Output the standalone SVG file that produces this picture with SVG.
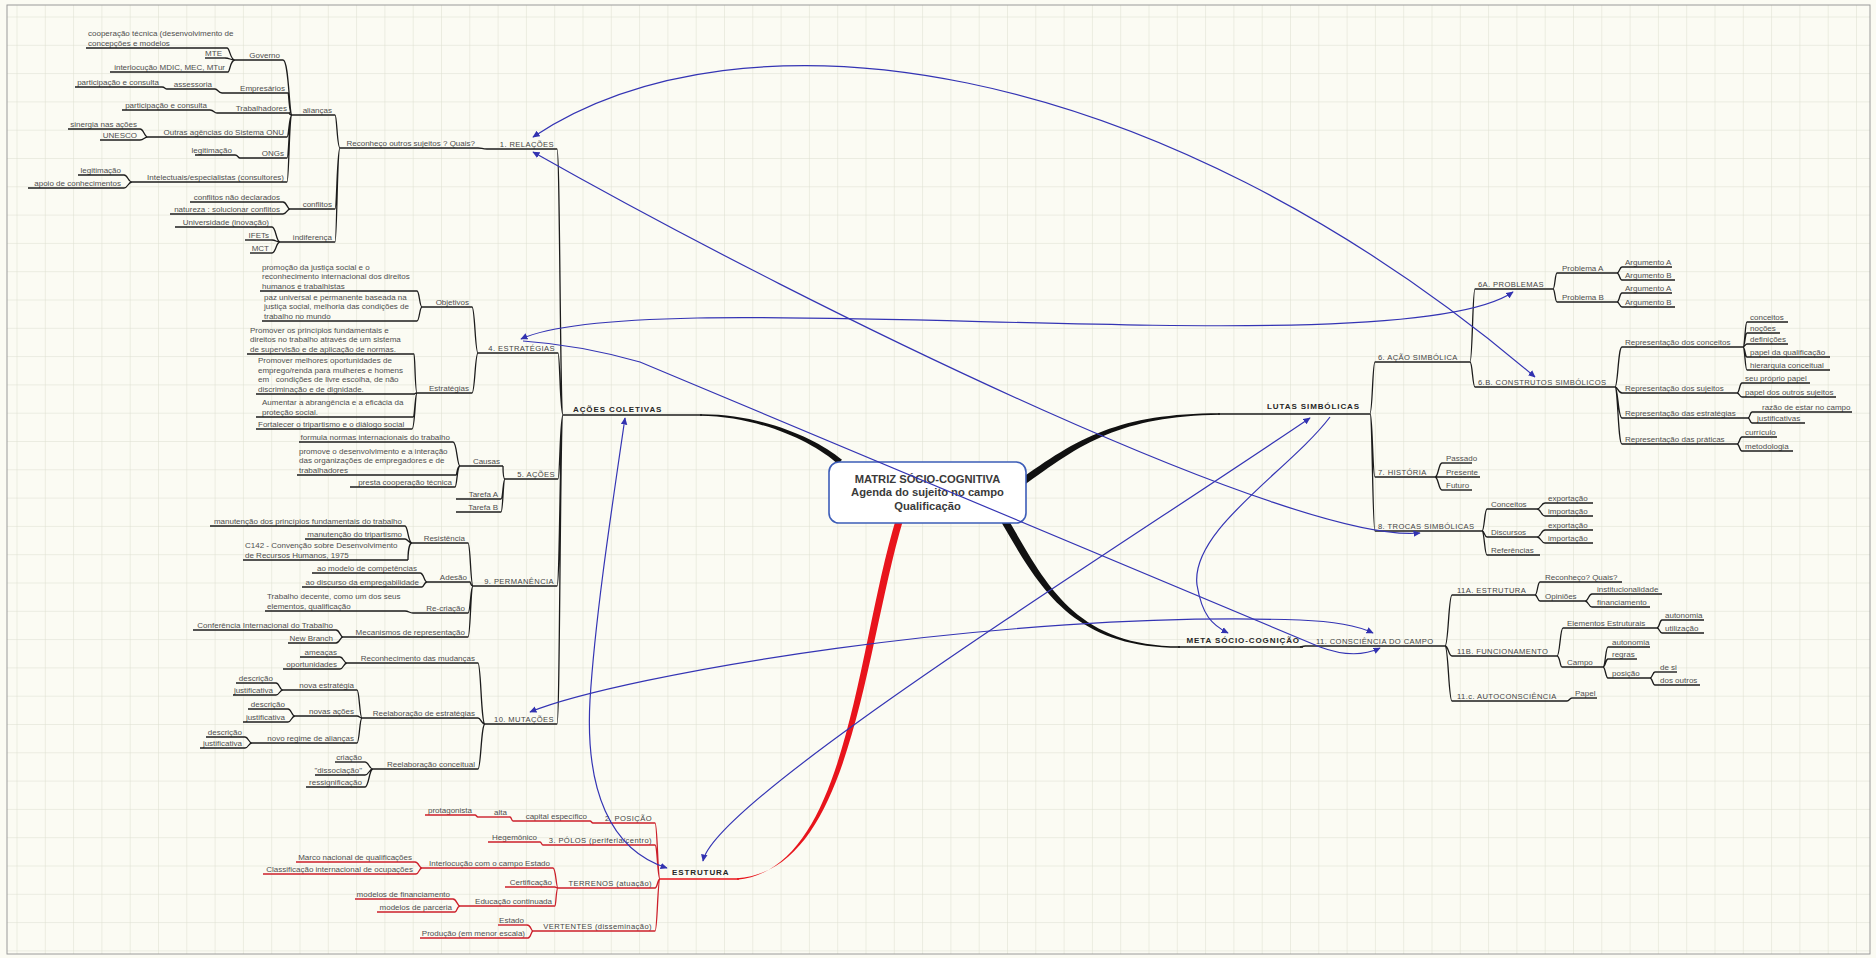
<svg xmlns="http://www.w3.org/2000/svg" width="1876" height="958" viewBox="0 0 1876 958">
<defs>
<style>
text{font-family:"Liberation Sans",Arial,sans-serif}
.t{font-size:8px;fill:#4e4e4e}
.k{font-size:7.6px;letter-spacing:.4px;fill:#444}
.b{font-size:8px;font-weight:bold;letter-spacing:.9px;fill:#262626}
.e{text-anchor:end}
.ct{font-size:11.2px;font-weight:bold;fill:#3a3a3a;text-anchor:middle}
.u{fill:none;stroke:#1c1c1c;stroke-width:1.4}
.ur{fill:none;stroke:#cc1f2a;stroke-width:1.4}
.c{fill:none;stroke:#1c1c1c;stroke-width:1.3}
.cr{fill:none;stroke:#cc1f2a;stroke-width:1.3}
.rl{fill:none;stroke:#3434b4;stroke-width:1.2;marker-end:url(#ah)}
.rs{marker-start:url(#ah)}
</style>
<pattern id="grid" x="16.5" y="16.5" width="28.3" height="28.3" patternUnits="userSpaceOnUse">
<path d="M0 0H28.3M0 0V28.3" fill="none" stroke="#dcdecf" stroke-width="1"/>
</pattern>
<marker id="ah" viewBox="0 0 10 10" refX="9" refY="5" markerWidth="6" markerHeight="6" orient="auto-start-reverse" markerUnits="strokeWidth">
<path d="M0 0.5L10 5L0 9.5Z" fill="#3232b0"/>
</marker>
</defs>
<rect x="0" y="0" width="1876" height="958" fill="#fbfbf3"/>
<rect x="7" y="5" width="1863" height="949" fill="url(#grid)" stroke="#9a9a9a" stroke-width="1"/>

<g id="connectors">
<path class="c" d="M563 415C560 415 560 149 557 149M563 415C560 415 560 353 558 353M563 415C560 415 560 479 558 479M563 415C560 415 560 586 557 586M563 415C560 415 560 724 557 724"/>
<path class="c" d="M487 149C482 149 482 148 478 148"/>
<path class="c" d="M340 148C337 148 337 115 335 115M340 148C337 148 337 209 335 209M340 148C337 148 337 242 335 242"/>
<path class="c" d="M292 115C289 115 289 60 283 60M292 115C289 115 289 93 288 93M292 115C289 115 289 113 290 113M292 115C289 115 289 137 287 137M292 115C289 115 289 158 287 158M292 115C289 115 289 182 287 182"/>
<path class="c" d="M235 60C230 60 230 48 227 48M235 60C230 60 230 58 225 58M235 60C230 60 230 72 228 72"/>
<path class="c" d="M222 93C218 93 218 89 215 89M167 89C165 89 165 87 162 87M217 113C214 113 214 110 210 110"/>
<path class="c" d="M148 137C144 137 144 129 140 129M148 137C144 137 144 140 140 140M240 158C238 158 238 155 235 155"/>
<path class="c" d="M132 182C128 182 128 175 124 175M132 182C128 182 128 188 124 188"/>
<path class="c" d="M290 209C287 209 287 202 283 202M290 209C287 209 287 214 283 214"/>
<path class="c" d="M280 242C276 242 276 227 272 227M280 242C276 242 276 240 272 240M280 242C276 242 276 253 272 253"/>
<path class="c" d="M478 353C475 353 475 307 472 307M478 353C475 353 475 393 472 393"/>
<path class="c" d="M422 307C419.5 307 419.5 291 417 291M422 307C419.5 307 419.5 321 417 321"/>
<path class="c" d="M417 393C415 393 415 354 414 354M417 393C415 393 415 394 415 394M417 393C415 393 415 417 413 417M417 393C415 393 415 429 412 429"/>
<path class="c" d="M505 479C503 479 503 466 503 466M505 479C503 479 503 499 501 499M505 479C503 479 503 512 501 512"/>
<path class="c" d="M460 466C457 466 457 442 453 442M460 466C457 466 457 475 456 475M460 466C457 466 457 487 455 487"/>
<path class="c" d="M473 586C470.5 586 470.5 543 468 543M473 586C470.5 586 470.5 582 470 582M473 586C470.5 586 470.5 613 468 613M473 586C470.5 586 470.5 637 468 637"/>
<path class="c" d="M412 543C408 543 408 526 405 526M412 543C408 543 408 539 405 539M412 543C408 543 408 560 408 560"/>
<path class="c" d="M427 582C424 582 424 573 420 573M427 582C424 582 424 587 422 587M413 613C409 613 409 611 405 611"/>
<path class="c" d="M343 637C340 637 340 630 336 630M343 637C340 637 340 643 336 643"/>
<path class="c" d="M485 724C481 724 481 663 478 663M485 724C481 724 481 718 478 718M485 724C481 724 481 769 478 769"/>
<path class="c" d="M347 663C343.5 663 343.5 657 340 657M347 663C343.5 663 343.5 669 340 669"/>
<path class="c" d="M362 718C359.5 718 359.5 690 357 690M362 718C359.5 718 359.5 716 357 716M362 718C359.5 718 359.5 743 357 743"/>
<path class="c" d="M283 690C279.5 690 279.5 683 276 683M283 690C279.5 690 279.5 695 276 695M295 716C291.5 716 291.5 709 288 709M295 716C291.5 716 291.5 722 288 722M252 743C248.5 743 248.5 737 245 737M252 743C248.5 743 248.5 748 245 748"/>
<path class="c" d="M373 769C369 769 369 762 365 762M373 769C369 769 369 775 365 775M373 769C369 769 369 787 365 787"/>
<path class="cr" d="M660 879C657.5 879 657.5 823 655 823M660 879C657.5 879 657.5 845 655 845M660 879C657.5 879 657.5 888 655 888M660 879C657.5 879 657.5 931 655 931"/>
<path class="cr" d="M593 823C591.5 823 591.5 821 590 821M513 821C511.5 821 511.5 817 510 817M478 817C476.5 817 476.5 815 475 815M543 845C541.5 845 541.5 842 540 842"/>
<path class="cr" d="M558 888C556 888 556 868 553 868M558 888C556 888 556 887 555 887M558 888C556 888 556 906 555 906"/>
<path class="cr" d="M422 868C419 868 419 862 415 862M422 868C419 868 419 874 416 874M460 906C457 906 457 899 453 899M460 906C457 906 457 912 455 912M533 931C531 931 531 925 527 925M533 931C531 931 531 938 528 938"/>
<path class="c" d="M1370 413C1372.5 413 1372.5 362 1375 362M1370 413C1372.5 413 1372.5 477 1375 477M1370 413C1372.5 413 1372.5 531 1375 531"/>
<path class="c" d="M1470 362C1472.5 362 1472.5 289 1475 289M1470 362C1472.5 362 1472.5 387 1475 387"/>
<path class="c" d="M1553 289C1555 289 1555 273 1557 273M1553 289C1555 289 1555 302 1557 302"/>
<path class="c" d="M1617 273C1619.5 273 1619.5 267 1622 267M1617 273C1619.5 273 1619.5 280 1622 280M1617 302C1619.5 302 1619.5 293 1622 293M1617 302C1619.5 302 1619.5 307 1622 307"/>
<path class="c" d="M1615 387C1618 387 1618 347 1622 347M1615 387C1618 387 1618 393 1622 393M1615 387C1618 387 1618 418 1622 418M1615 387C1618 387 1618 444 1622 444"/>
<path class="c" d="M1743 347C1745 347 1745 322 1747 322M1743 347C1745 347 1745 333 1747 333M1743 347C1745 347 1745 344 1747 344M1743 347C1745 347 1745 357 1747 357M1743 347C1745 347 1745 370 1747 370"/>
<path class="c" d="M1737 393C1739.5 393 1739.5 383 1742 383M1737 393C1739.5 393 1739.5 397 1742 397M1748 418C1750 418 1750 412 1752 412M1748 418C1750 418 1750 423 1752 423M1737 444C1739.5 444 1739.5 437 1742 437M1737 444C1739.5 444 1739.5 451 1742 451"/>
<path class="c" d="M1435 477C1438.5 477 1438.5 463 1442 463M1435 477C1438.5 477 1438.5 477 1442 477M1435 477C1438.5 477 1438.5 490 1442 490"/>
<path class="c" d="M1482 531C1484.5 531 1484.5 509 1487 509M1482 531C1484.5 531 1484.5 537 1487 537M1482 531C1484.5 531 1484.5 555 1487 555"/>
<path class="c" d="M1537 509C1541 509 1541 503 1545 503M1537 509C1541 509 1541 516 1545 516M1537 537C1541 537 1541 530 1545 530M1537 537C1541 537 1541 543 1545 543"/>
<path class="c" d="M1300 647L1305 646"/>
<path class="c" d="M1445 646C1448.5 646 1448.5 595 1452 595M1445 646C1448.5 646 1448.5 656 1452 656M1445 646C1448.5 646 1448.5 701 1452 701"/>
<path class="c" d="M1535 595C1537.5 595 1537.5 582 1540 582M1535 595C1537.5 595 1537.5 601 1540 601M1585 601C1588.5 601 1588.5 594 1592 594M1585 601C1588.5 601 1588.5 607 1592 607"/>
<path class="c" d="M1557 656C1560 656 1560 628 1563 628M1557 656C1560 656 1560 667 1562 667M1657 628C1659.5 628 1659.5 620 1662 620M1657 628C1659.5 628 1659.5 633 1662 633"/>
<path class="c" d="M1603 667C1605.5 667 1605.5 647 1608 647M1603 667C1605.5 667 1605.5 659 1608 659M1603 667C1605.5 667 1605.5 678 1608 678M1650 678C1652.5 678 1652.5 672 1655 672M1650 678C1652.5 678 1652.5 685 1655 685M1567 701C1569.5 701 1569.5 698 1572 698"/>
<path fill="#111" d="M700 414.2C760 413.5 816.5 438 842 459.8L838 464.2C813.5 442 760 416.5 700 415.8Z"/>
<path fill="#111" d="M1018 481C1078 437.5 1119 413.5 1220 413.2L1220 414.8C1121 416.5 1082 442.5 1022 487Z"/>
<path fill="#111" d="M1006 516C1043 577 1071 646.2 1180 646.2L1180 647.8C1069 648 1037 583 1000 520Z"/>
<path fill="#e8141c" d="M903.4 519C864 651 852 871 737 878.2L737 879.8C848 869 856 649 896.6 517Z"/>
</g>

<g id="n-acoescoletivas"><text class="b" x="573" y="412">AÇÕES COLETIVAS</text><path class="u" d="M563 415H702"/></g>
<g id="n-rel"><text class="k e" x="554" y="146.5">1. RELAÇÕES</text><path class="u" d="M487 149H557"/></g>
<g id="n-reconheco"><text class="t e" x="475" y="145.5">Reconheço outros sujeitos ? Quais?</text><path class="u" d="M340 148H478"/></g>
<g id="n-aliancas"><text class="t e" x="332" y="112.5">alianças</text><path class="u" d="M292 115H335"/></g>
<g id="n-conflitos"><text class="t e" x="332" y="206.5">conflitos</text><path class="u" d="M290 209H335"/></g>
<g id="n-indiferenca"><text class="t e" x="332" y="239.5">indiferença</text><path class="u" d="M280 242H335"/></g>
<g id="n-governo"><text class="t e" x="280" y="57.5">Governo</text><path class="u" d="M235 60H283"/></g>
<g id="n-empresarios"><text class="t e" x="285" y="90.5">Empresários</text><path class="u" d="M222 93H288"/></g>
<g id="n-trabalhadores"><text class="t e" x="287" y="110.5">Trabalhadores</text><path class="u" d="M217 113H290"/></g>
<g id="n-outras"><text class="t e" x="284" y="134.5">Outras agências do Sistema ONU</text><path class="u" d="M148 137H287"/></g>
<g id="n-ongs"><text class="t e" x="284" y="155.5">ONGs</text><path class="u" d="M240 158H287"/></g>
<g id="n-intelectuais"><text class="t e" x="284" y="179.5">Intelectuais/especialistas (consultores)</text><path class="u" d="M132 182H287"/></g>
<g id="n-cooperacao"><text class="t" x="88" y="35.5">cooperação técnica (desenvolvimento de<tspan x="88" dy="10">concepções e modelos</tspan></text><path class="u" d="M86 48H227"/></g>
<g id="n-mte"><text class="t e" x="222" y="55.5">MTE</text><path class="u" d="M205 58H225"/></g>
<g id="n-interlocucao"><text class="t e" x="225" y="69.5">interlocução MDIC, MEC, MTur</text><path class="u" d="M110 72H228"/></g>
<g id="n-assessoria"><text class="t e" x="212" y="86.5">assessoria</text><path class="u" d="M167 89H215"/></g>
<g id="n-part1"><text class="t e" x="159" y="84.5">participação e consulta</text><path class="u" d="M75 87H162"/></g>
<g id="n-part2"><text class="t e" x="207" y="107.5">participação e consulta</text><path class="u" d="M122 110H210"/></g>
<g id="n-sinergia"><text class="t e" x="137" y="126.5">sinergia nas ações</text><path class="u" d="M68 129H140"/></g>
<g id="n-unesco"><text class="t e" x="137" y="137.5">UNESCO</text><path class="u" d="M100 140H140"/></g>
<g id="n-legit1"><text class="t e" x="232" y="152.5">legitimação</text><path class="u" d="M195 155H235"/></g>
<g id="n-legit2"><text class="t e" x="121" y="172.5">legitimação</text><path class="u" d="M78 175H124"/></g>
<g id="n-apoio"><text class="t e" x="121" y="185.5">apoio de conhecimentos</text><path class="u" d="M28 188H124"/></g>
<g id="n-naodecl"><text class="t e" x="280" y="199.5">conflitos não declarados</text><path class="u" d="M190 202H283"/></g>
<g id="n-natureza"><text class="t e" x="280" y="211.5">natureza : solucionar conflitos</text><path class="u" d="M170 214H283"/></g>
<g id="n-universidade"><text class="t e" x="269" y="224.5">Universidade (inovação)</text><path class="u" d="M175 227H272"/></g>
<g id="n-ifets"><text class="t e" x="269" y="237.5">IFETs</text><path class="u" d="M245 240H272"/></g>
<g id="n-mct"><text class="t e" x="269" y="250.5">MCT</text><path class="u" d="M250 253H272"/></g>

<g id="n-estrategias"><text class="k e" x="555" y="350.5">4. ESTRATÉGIAS</text><path class="u" d="M478 353H558"/></g>
<g id="n-objetivos"><text class="t e" x="469" y="304.5">Objetivos</text><path class="u" d="M422 307H472"/></g>
<g id="n-estrat2"><text class="t e" x="469" y="390.5">Estratégias</text><path class="u" d="M417 393H472"/></g>
<g id="n-promocao"><text class="t" x="262" y="269.5">promoção da justiça social e o<tspan x="262" dy="9.5">reconhecimento internacional dos direitos</tspan><tspan x="262" dy="9.5">humanos e trabalhistas</tspan></text><path class="u" d="M260 291H417"/></g>
<g id="n-paz"><text class="t" x="264" y="299.5">paz universal e permanente baseada na<tspan x="264" dy="9.5">justiça social, melhoria das condições de</tspan><tspan x="264" dy="9.5">trabalho no mundo</tspan></text><path class="u" d="M262 321H417"/></g>
<g id="n-principios"><text class="t" x="250" y="332.5">Promover os princípios fundamentais e<tspan x="250" dy="9.5">direitos no trabalho através de um sistema</tspan><tspan x="250" dy="9.5">de supervisão e de aplicação de normas.</tspan></text><path class="u" d="M247 354H414"/></g>
<g id="n-oportunidades"><text class="t" x="258" y="363">Promover melhores oportunidades de<tspan x="258" dy="9.5">emprego/renda para mulheres e homens</tspan><tspan x="258" dy="9.5">em&#160;&#160;&#160;condições de livre escolha, de não</tspan><tspan x="258" dy="9.5">discriminação e de dignidade.</tspan></text><path class="u" d="M256 394H415"/></g>
<g id="n-abrangencia"><text class="t" x="262" y="405">Aumentar a abrangência e a eficácia da<tspan x="262" dy="9.5">proteção social.</tspan></text><path class="u" d="M256 417H413"/></g>
<g id="n-tripartismo"><text class="t" x="258" y="426.5">Fortalecer o tripartismo e o diálogo social</text><path class="u" d="M256 429H412"/></g>

<g id="n-acoes"><text class="k e" x="555" y="476.5">5. AÇÕES</text><path class="u" d="M505 479H558"/></g>
<g id="n-causas"><text class="t e" x="500" y="463.5">Causas</text><path class="u" d="M460 466H503"/></g>
<g id="n-tarefaA"><text class="t e" x="498" y="496.5">Tarefa A</text><path class="u" d="M456 499H501"/></g>
<g id="n-tarefaB"><text class="t e" x="498" y="509.5">Tarefa B</text><path class="u" d="M456 512H501"/></g>
<g id="n-formula"><text class="t e" x="450" y="439.5">formula normas internacionais do trabalho</text><path class="u" d="M299 442H453"/></g>
<g id="n-promove"><text class="t" x="299" y="453.5">promove o desenvolvimento e a interação<tspan x="299" dy="9.5">das organizações de empregadores e de</tspan><tspan x="299" dy="9.5">trabalhadores</tspan></text><path class="u" d="M297 475H456"/></g>
<g id="n-presta"><text class="t e" x="452" y="484.5">presta cooperação técnica</text><path class="u" d="M350 487H455"/></g>

<g id="n-permanencia"><text class="k e" x="554" y="583.5">9. PERMANÊNCIA</text><path class="u" d="M473 586H557"/></g>
<g id="n-resistencia"><text class="t e" x="465" y="540.5">Resistência</text><path class="u" d="M412 543H468"/></g>
<g id="n-adesao"><text class="t e" x="467" y="579.5">Adesão</text><path class="u" d="M427 582H470"/></g>
<g id="n-recriacao"><text class="t e" x="465" y="610.5">Re-criação</text><path class="u" d="M413 613H468"/></g>
<g id="n-mecanismos"><text class="t e" x="465" y="634.5">Mecanismos de representação</text><path class="u" d="M343 637H468"/></g>
<g id="n-manut1"><text class="t e" x="402" y="523.5">manutenção dos princípios fundamentais do trabalho</text><path class="u" d="M210 526H405"/></g>
<g id="n-manut2"><text class="t e" x="402" y="536.5">manutenção do tripartismo</text><path class="u" d="M305 539H405"/></g>
<g id="n-c142"><text class="t" x="245" y="548">C142 - Convenção sobre Desenvolvimento<tspan x="245" dy="9.5">de Recursos Humanos, 1975</tspan></text><path class="u" d="M243 560H408"/></g>
<g id="n-modelo"><text class="t e" x="417" y="570.5">ao modelo de competências</text><path class="u" d="M312 573H420"/></g>
<g id="n-discurso"><text class="t e" x="419" y="584.5">ao discurso da empregabilidade</text><path class="u" d="M302 587H422"/></g>
<g id="n-decente"><text class="t" x="267" y="599">Trabalho decente, como um dos seus<tspan x="267" dy="9.5">elementos, qualificação</tspan></text><path class="u" d="M265 611H405"/></g>
<g id="n-cit"><text class="t e" x="333" y="627.5">Conferência Internacional do Trabalho</text><path class="u" d="M193 630H336"/></g>
<g id="n-newbranch"><text class="t e" x="333" y="640.5">New Branch</text><path class="u" d="M288 643H336"/></g>

<g id="n-mutacoes"><text class="k e" x="554" y="721.5">10. MUTAÇÕES</text><path class="u" d="M485 724H557"/></g>
<g id="n-mudancas"><text class="t e" x="475" y="660.5">Reconhecimento das mudanças</text><path class="u" d="M347 663H478"/></g>
<g id="n-reelabest"><text class="t e" x="475" y="715.5">Reelaboração de estratégias</text><path class="u" d="M362 718H478"/></g>
<g id="n-reelabconc"><text class="t e" x="475" y="766.5">Reelaboração conceitual</text><path class="u" d="M373 769H478"/></g>
<g id="n-ameacas"><text class="t e" x="337" y="654.5">ameaças</text><path class="u" d="M300 657H340"/></g>
<g id="n-oport"><text class="t e" x="337" y="666.5">oportunidades</text><path class="u" d="M283 669H340"/></g>
<g id="n-novaest"><text class="t e" x="354" y="687.5">nova estratégia</text><path class="u" d="M283 690H357"/></g>
<g id="n-novasacoes"><text class="t e" x="354" y="713.5">novas ações</text><path class="u" d="M295 716H357"/></g>
<g id="n-novoregime"><text class="t e" x="354" y="740.5">novo regime de alianças</text><path class="u" d="M252 743H357"/></g>
<g id="n-desc1"><text class="t e" x="273" y="680.5">descrição</text><path class="u" d="M236 683H276"/></g>
<g id="n-just1"><text class="t e" x="273" y="692.5">justificativa</text><path class="u" d="M233 695H276"/></g>
<g id="n-desc2"><text class="t e" x="285" y="706.5">descrição</text><path class="u" d="M248 709H288"/></g>
<g id="n-just2"><text class="t e" x="285" y="719.5">justificativa</text><path class="u" d="M243 722H288"/></g>
<g id="n-desc3"><text class="t e" x="242" y="734.5">descrição</text><path class="u" d="M206 737H245"/></g>
<g id="n-just3"><text class="t e" x="242" y="745.5">justificativa</text><path class="u" d="M200 748H245"/></g>
<g id="n-criacao"><text class="t e" x="362" y="759.5">criação</text><path class="u" d="M335 762H365"/></g>
<g id="n-dissoc"><text class="t e" x="362" y="772.5">"dissociação"</text><path class="u" d="M315 775H365"/></g>
<g id="n-ressig"><text class="t e" x="362" y="784.5">ressignificação</text><path class="u" d="M306 787H365"/></g>

<g id="n-estrutura"><text class="b" x="672" y="875">ESTRUTURA</text><path fill="none" stroke="#e8141c" stroke-width="1.6" d="M660 879H739"/></g>
<g id="n-posicao"><text class="k e" x="652" y="820.5">2. POSIÇÃO</text><path class="ur" d="M593 823H655"/></g>
<g id="n-polos"><text class="k e" x="652" y="842.5">3. PÓLOS (periferia/centro)</text><path class="ur" d="M543 845H655"/></g>
<g id="n-terrenos"><text class="k e" x="652" y="885.5">TERRENOS (atuação)</text><path class="ur" d="M558 888H655"/></g>
<g id="n-vertentes"><text class="k e" x="652" y="928.5">VERTENTES (disseminação)</text><path class="ur" d="M533 931H655"/></g>
<g id="n-capital"><text class="t e" x="587" y="818.5">capital específico</text><path class="ur" d="M513 821H590"/></g>
<g id="n-alta"><text class="t e" x="507" y="814.5">alta</text><path class="ur" d="M478 817H510"/></g>
<g id="n-protag"><text class="t e" x="472" y="812.5">protagonista</text><path class="ur" d="M425 815H475"/></g>
<g id="n-hegem"><text class="t e" x="537" y="839.5">Hegemônico</text><path class="ur" d="M488 842H540"/></g>
<g id="n-interlest"><text class="t e" x="550" y="865.5">Interlocução com o campo Estado</text><path class="ur" d="M422 868H553"/></g>
<g id="n-certif"><text class="t e" x="552" y="884.5">Certificação</text><path class="ur" d="M505 887H555"/></g>
<g id="n-educ"><text class="t e" x="552" y="903.5">Educação continuada</text><path class="ur" d="M460 906H555"/></g>
<g id="n-marco"><text class="t e" x="412" y="859.5">Marco nacional de qualificações</text><path class="ur" d="M296 862H415"/></g>
<g id="n-classif"><text class="t e" x="413" y="871.5">Classificação internacional de ocupações</text><path class="ur" d="M263 874H416"/></g>
<g id="n-financ"><text class="t e" x="450" y="896.5">modelos de financiamento</text><path class="ur" d="M355 899H453"/></g>
<g id="n-parceria"><text class="t e" x="452" y="909.5">modelos de parceria</text><path class="ur" d="M377 912H455"/></g>
<g id="n-estado"><text class="t e" x="524" y="922.5">Estado</text><path class="ur" d="M498 925H527"/></g>
<g id="n-producao"><text class="t e" x="525" y="935.5">Produção (em menor escala)</text><path class="ur" d="M420 938H528"/></g>

<g id="n-lutas"><text class="b e" x="1360" y="409">LUTAS SIMBÓLICAS</text><path class="u" d="M1218 414H1370"/></g>
<g id="n-acaosimb"><text class="k" x="1378" y="359.5">6. AÇÃO SIMBÓLICA</text><path class="u" d="M1375 362H1470"/></g>
<g id="n-historia"><text class="k" x="1378" y="474.5">7. HISTÓRIA</text><path class="u" d="M1375 477H1435"/></g>
<g id="n-trocas"><text class="k" x="1378" y="528.5">8. TROCAS SIMBÓLICAS</text><path class="u" d="M1375 531H1482"/></g>
<g id="n-problemas"><text class="k" x="1478" y="286.5">6A. PROBLEMAS</text><path class="u" d="M1475 289H1553"/></g>
<g id="n-construtos"><text class="k" x="1478" y="384.5">6.B. CONSTRUTOS SIMBÓLICOS</text><path class="u" d="M1475 387H1615"/></g>
<g id="n-probA"><text class="t" x="1562" y="270.5">Problema A</text><path class="u" d="M1557 273H1617"/></g>
<g id="n-probB"><text class="t" x="1562" y="299.5">Problema B</text><path class="u" d="M1557 302H1617"/></g>
<g id="n-argA1"><text class="t" x="1625" y="264.5">Argumento A</text><path class="u" d="M1622 267H1672"/></g>
<g id="n-argB1"><text class="t" x="1625" y="277.5">Argumento B</text><path class="u" d="M1622 280H1675"/></g>
<g id="n-argA2"><text class="t" x="1625" y="290.5">Argumento A</text><path class="u" d="M1622 293H1672"/></g>
<g id="n-argB2"><text class="t" x="1625" y="304.5">Argumento B</text><path class="u" d="M1622 307H1675"/></g>
<g id="n-repconc"><text class="t" x="1625" y="344.5">Representação dos conceitos</text><path class="u" d="M1622 347H1743"/></g>
<g id="n-repsuj"><text class="t" x="1625" y="390.5">Representação dos sujeitos</text><path class="u" d="M1622 393H1737"/></g>
<g id="n-repest"><text class="t" x="1625" y="415.5">Representação das estratégias</text><path class="u" d="M1622 418H1748"/></g>
<g id="n-repprat"><text class="t" x="1625" y="441.5">Representação das práticas</text><path class="u" d="M1622 444H1737"/></g>
<g id="n-conceitos"><text class="t" x="1750" y="319.5">conceitos</text><path class="u" d="M1747 322H1788"/></g>
<g id="n-nocoes"><text class="t" x="1750" y="330.5">noções</text><path class="u" d="M1747 333H1780"/></g>
<g id="n-definicoes"><text class="t" x="1750" y="341.5">definições</text><path class="u" d="M1747 344H1788"/></g>
<g id="n-papelqual"><text class="t" x="1750" y="354.5">papel da qualificação</text><path class="u" d="M1747 357H1830"/></g>
<g id="n-hierarquia"><text class="t" x="1750" y="367.5">hierarquia conceitual</text><path class="u" d="M1747 370H1830"/></g>
<g id="n-seupapel"><text class="t" x="1745" y="380.5">seu próprio papel</text><path class="u" d="M1742 383H1810"/></g>
<g id="n-papeloutros"><text class="t" x="1745" y="394.5">papel dos outros sujeitos</text><path class="u" d="M1742 397H1836"/></g>
<g id="n-razao"><text class="t" x="1762" y="409.5">razão de estar no campo</text><path class="u" d="M1752 412H1852"/></g>
<g id="n-justif"><text class="t" x="1757" y="420.5">justificativas</text><path class="u" d="M1752 423H1805"/></g>
<g id="n-curriculo"><text class="t" x="1745" y="434.5">currículo</text><path class="u" d="M1742 437H1777"/></g>
<g id="n-metodologia"><text class="t" x="1745" y="448.5">metodologia</text><path class="u" d="M1742 451H1793"/></g>
<g id="n-passado"><text class="t" x="1446" y="460.5">Passado</text><path class="u" d="M1442 463H1472"/></g>
<g id="n-presente"><text class="t" x="1446" y="474.5">Presente</text><path class="u" d="M1442 477H1480"/></g>
<g id="n-futuro"><text class="t" x="1446" y="487.5">Futuro</text><path class="u" d="M1442 490H1472"/></g>
<g id="n-conceitos2"><text class="t" x="1491" y="506.5">Conceitos</text><path class="u" d="M1487 509H1537"/></g>
<g id="n-discursos"><text class="t" x="1491" y="534.5">Discursos</text><path class="u" d="M1487 537H1537"/></g>
<g id="n-referencias"><text class="t" x="1491" y="552.5">Referências</text><path class="u" d="M1487 555H1540"/></g>
<g id="n-exp1"><text class="t" x="1548" y="500.5">exportação</text><path class="u" d="M1545 503H1593"/></g>
<g id="n-imp1"><text class="t" x="1548" y="513.5">importação</text><path class="u" d="M1545 516H1593"/></g>
<g id="n-exp2"><text class="t" x="1548" y="527.5">exportação</text><path class="u" d="M1545 530H1593"/></g>
<g id="n-imp2"><text class="t" x="1548" y="540.5">importação</text><path class="u" d="M1545 543H1593"/></g>

<g id="n-meta"><text class="b e" x="1300" y="643">META SÓCIO-COGNIÇÃO</text><path class="u" d="M1178 647H1303"/></g>
<g id="n-consciencia"><text class="k" x="1316" y="643.5">11. CONSCIÊNCIA DO CAMPO</text><path class="u" d="M1305 646H1445"/></g>
<g id="n-11a"><text class="k" x="1457" y="592.5">11A. ESTRUTURA</text><path class="u" d="M1452 595H1535"/></g>
<g id="n-11b"><text class="k" x="1457" y="653.5">11B. FUNCIONAMENTO</text><path class="u" d="M1452 656H1557"/></g>
<g id="n-11c"><text class="k" x="1457" y="698.5">11.c. AUTOCONSCIÊNCIA</text><path class="u" d="M1452 701H1567"/></g>
<g id="n-recquais"><text class="t" x="1545" y="579.5">Reconheço? Quais?</text><path class="u" d="M1540 582H1622"/></g>
<g id="n-opinioes"><text class="t" x="1545" y="598.5">Opiniões</text><path class="u" d="M1540 601H1585"/></g>
<g id="n-instit"><text class="t" x="1597" y="591.5">institucionalidade</text><path class="u" d="M1592 594H1662"/></g>
<g id="n-financ2"><text class="t" x="1597" y="604.5">financiamento</text><path class="u" d="M1592 607H1650"/></g>
<g id="n-elementos"><text class="t" x="1567" y="625.5">Elementos Estruturais</text><path class="u" d="M1563 628H1657"/></g>
<g id="n-campo"><text class="t" x="1567" y="664.5">Campo</text><path class="u" d="M1562 667H1603"/></g>
<g id="n-auton1"><text class="t" x="1665" y="617.5">autonomia</text><path class="u" d="M1662 620H1704"/></g>
<g id="n-utiliz"><text class="t" x="1665" y="630.5">utilização</text><path class="u" d="M1662 633H1704"/></g>
<g id="n-auton2"><text class="t" x="1612" y="644.5">autonomia</text><path class="u" d="M1608 647H1650"/></g>
<g id="n-regras"><text class="t" x="1612" y="656.5">regras</text><path class="u" d="M1608 659H1637"/></g>
<g id="n-posicao2"><text class="t" x="1612" y="675.5">posição</text><path class="u" d="M1608 678H1650"/></g>
<g id="n-desi"><text class="t" x="1660" y="669.5">de si</text><path class="u" d="M1655 672H1677"/></g>
<g id="n-dosoutros"><text class="t" x="1660" y="682.5">dos outros</text><path class="u" d="M1655 685H1700"/></g>
<g id="n-papel"><text class="t" x="1575" y="695.5">Papel</text><path class="u" d="M1572 698H1597"/></g>

<g id="n-central"><rect x="829" y="462" width="197" height="61" rx="10" fill="#ffffff" stroke="#3d5db8" stroke-width="1.6"/><text class="ct" x="927.5" y="482.5">MATRIZ SÓCIO-COGNITIVA</text><text class="ct" x="927.5" y="496">Agenda do sujeito no campo</text><text class="ct" x="927.5" y="509.5">Qualificação</text></g>

<g id="relationships">
<path class="rl rs" d="M533 137C740 0 1150 50 1535 377"/>
<path class="rl rs" d="M533 152C830 320 1300 545 1420 533"/>
<path class="rl rs" d="M521 339C650 280 1400 370 1513 292"/>
<path class="rl" d="M523 341Q580 345 640 362L1320 647Q1355 660 1380 648"/>
<path class="rl rs" d="M530 712C620 675 1000 610 1300 620Q1350 622 1373 633"/>
<path class="rl rs" d="M625 418C610 520 595 620 590 700C585 790 610 850 667 868"/>
<path class="rl rs" d="M703 861C715 800 1100 560 1310 418"/>
<path class="rl" d="M1330 417C1290 470 1190 530 1197 585C1202 615 1212 625 1228 633"/>
</g>
</svg>
